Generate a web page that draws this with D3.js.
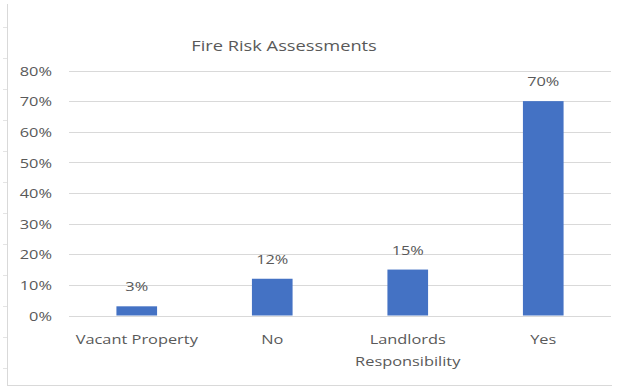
<!DOCTYPE html>
<html>
<head>
<meta charset="utf-8">
<script src="https://cdn.jsdelivr.net/npm/d3@7"></script>
<style>
  html, body { margin: 0; padding: 0; background: #fff; }
  text { font-family: "Open Sans", "Noto Sans", sans-serif; fill: #595959; }
</style>
</head>
<body>
<svg id="chart" width="622" height="386"></svg>
<script>
// Fire risk assessment responses
const categories = ["Vacant Property", "No", "Landlords Responsibility", "Yes"];
const shares = [0.03, 0.12, 0.15, 0.70];
const yTicks = [0, 0.1, 0.2, 0.3, 0.4, 0.5, 0.6, 0.7, 0.8];
const chartTitle = "Fire Risk Assessments";

const svg = d3.select("#chart");
const W = 622, H = 386;
const plot = { left: 69, right: 611, top: 70.5, bottom: 315.5 };
const stretch = 1.26; // horizontal widening of all chart text

// place a text element at (x, y) and widen it horizontally about its anchor
function placeText(sel, x, y) {
  sel.attr("x", 0).attr("y", 0)
    .attr("transform", `translate(${x},${y}) scale(${stretch},1)`);
  return sel;
}

// outer frame (left and bottom edges)
svg.append("line").attr("x1", 7.5).attr("x2", 7.5).attr("y1", 4).attr("y2", H)
  .attr("stroke", "#d9d9d9");
svg.append("line").attr("x1", 7).attr("x2", 612).attr("y1", 385.5).attr("y2", 385.5)
  .attr("stroke", "#d9d9d9");
// small marks along the frame edge
d3.range(27, 380, 31).forEach(y => {
  svg.append("line").attr("x1", 3).attr("x2", 7).attr("y1", y + 0.5).attr("y2", y + 0.5)
    .attr("stroke", "#e4e4e4");
});

const x = d3.scaleBand().domain(categories).range([plot.left, plot.right]).paddingInner(0.7).paddingOuter(0.35);
const y = d3.scaleLinear().domain([0, 0.8]).range([plot.bottom, plot.top]);
const pct = d3.format(".0%");

// gridlines
svg.append("g")
  .selectAll("line").data(yTicks).join("line")
  .attr("x1", plot.left).attr("x2", plot.right)
  .attr("y1", d => Math.round(y(d)) + 0.5).attr("y2", d => Math.round(y(d)) + 0.5)
  .attr("stroke", "#d9d9d9").attr("stroke-width", 1);

// y axis labels
const yAxis = d3.axisLeft(y).tickValues(yTicks).tickFormat(pct).tickSize(0).tickPadding(0);
const gy = svg.append("g").attr("transform", "translate(52,0)").call(yAxis);
gy.select(".domain").remove();
gy.selectAll(".tick text").style("font-size", "13px").attr("fill", "#595959")
  .attr("dy", "0.36em").attr("x", 0)
  .attr("transform", `scale(${stretch},1)`);

// bars
svg.append("g").selectAll("rect").data(categories).join("rect")
  .attr("x", d => x(d))
  .attr("width", x.bandwidth())
  .attr("y", (d, i) => y(shares[i]))
  .attr("height", (d, i) => y(0) - y(shares[i]))
  .attr("fill", "#4472c4");

// value labels
svg.append("g").selectAll("text").data(categories).join("text")
  .attr("text-anchor", "middle")
  .style("font-size", "13px")
  .text((d, i) => pct(shares[i]))
  .each(function(d, i) {
    placeText(d3.select(this), x(d) + x.bandwidth() / 2, y(shares[i]) - 15);
  });

// x axis labels (wrapped to two lines where needed)
const xAxis = d3.axisBottom(x).tickSize(0).tickPadding(0);
const gx = svg.append("g").attr("transform", `translate(0,${plot.bottom})`).call(xAxis);
gx.select(".domain").remove();
gx.selectAll(".tick text").each(function(d) {
  const t = d3.select(this);
  t.text(null).attr("y", 0).attr("dy", null).style("font-size", "13px").attr("fill", "#595959")
    .attr("transform", `scale(${stretch},1)`);
  const words = d === "Landlords Responsibility" ? ["Landlords", "Responsibility"] : [d];
  words.forEach((w, k) => {
    t.append("tspan").attr("x", 0).attr("y", 29 + k * 22).text(w);
  });
});

// title
placeText(
  svg.append("text").attr("text-anchor", "middle").style("font-size", "14.5px").text(chartTitle),
  284, 51
);
</script>
</body>
</html>
